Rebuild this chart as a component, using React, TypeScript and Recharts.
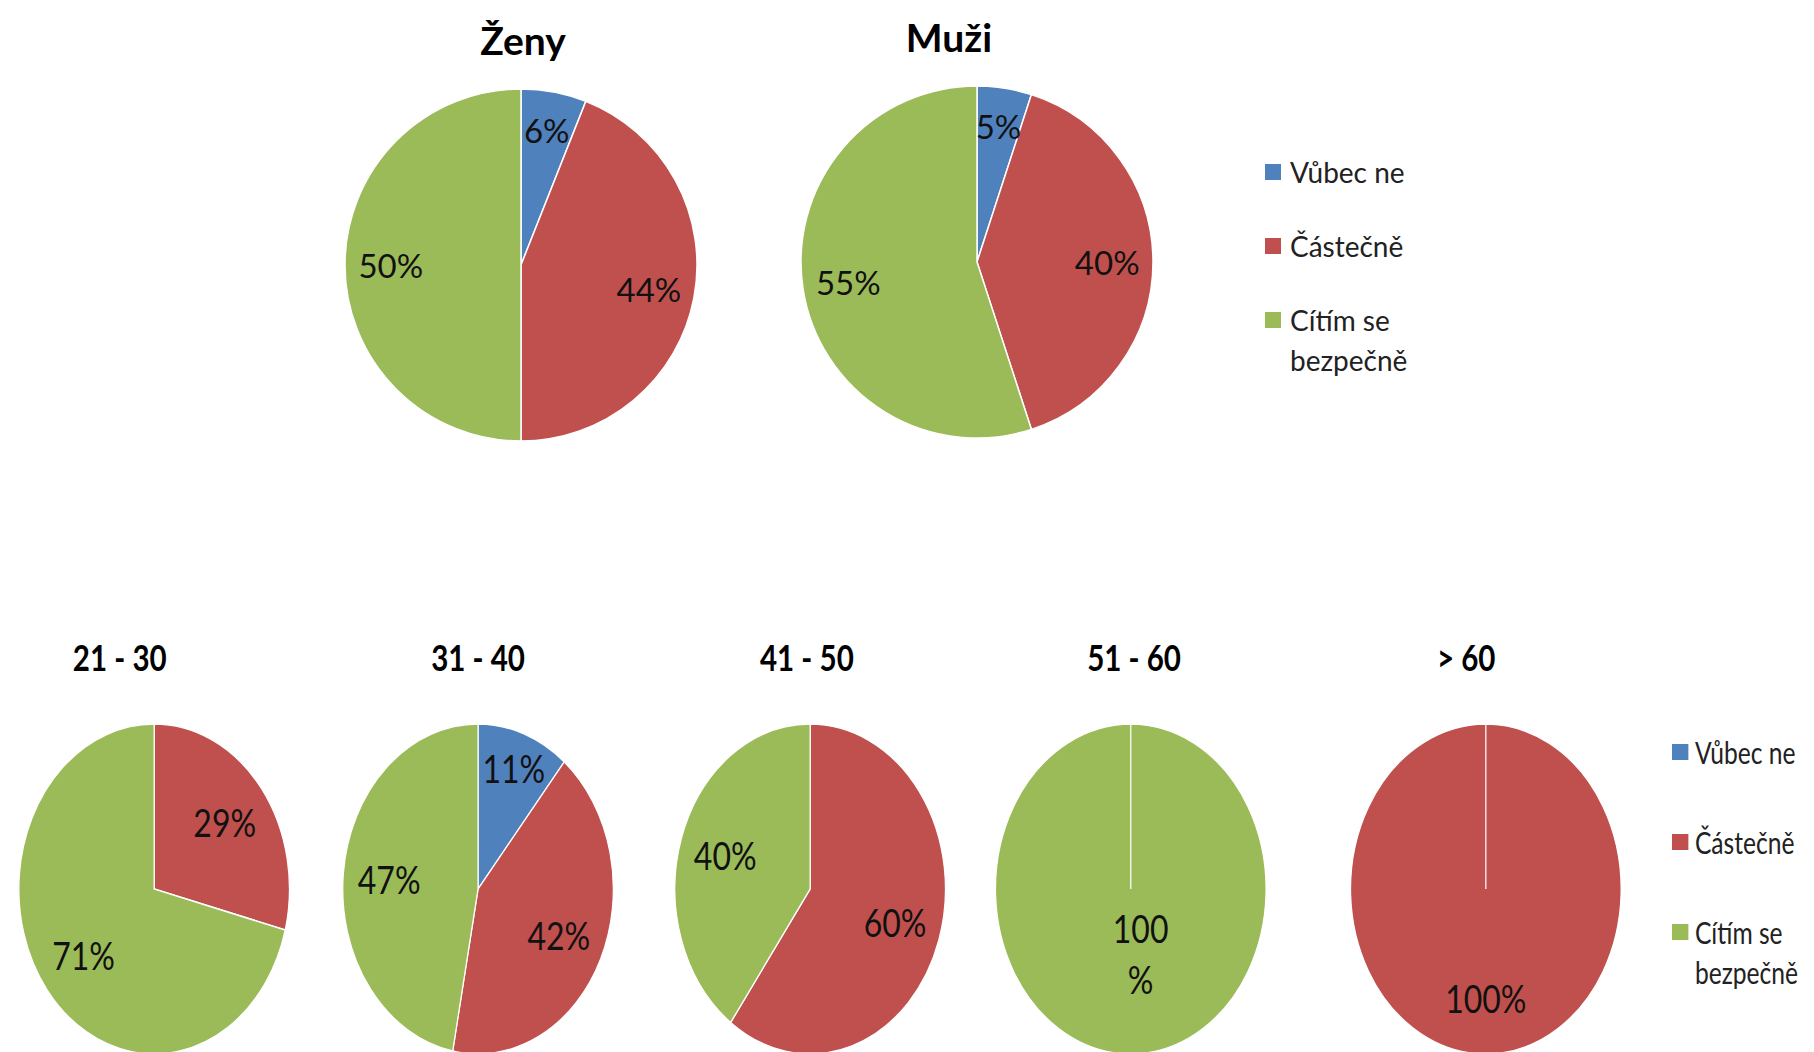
import React from "react";
import { PieChart, Pie, Cell, Legend } from "recharts";

// answer categories (same in every pie)
const categories = ["Vůbec ne", "Částečně", "Cítím se bezpečně"];
const sliceColors = ["#4F81BD", "#C0504D", "#9BBB59"];

// by gender
const genderTitles = ["Ženy", "Muži"];
const zenyValues = [6, 44, 50];
const muziValues = [5, 40, 55];

// by age group
const ageTitles = ["21 - 30", "31 - 40", "41 - 50", "51 - 60", "> 60"];
const age21to30 = [0, 29, 71];
const age31to40 = [11, 42, 47];
const age41to50 = [0, 60, 40];
const age51to60 = [0, 0, 100];
const ageOver60 = [0, 100, 0];

const toRows = (values: number[]) =>
  categories.map((name, i) => ({ name, value: values[i] }));

const FONT = "Lato, 'Open Sans', sans-serif";
const RAD = Math.PI / 180;
const NO_MARGIN = { top: 0, right: 0, bottom: 0, left: 0 };

// bottom row is drawn as circles and squeezed horizontally into ellipses
const SQUEEZE = 0.82;
const BOTTOM_TOP = 560;

type LabelOpts = { frac: number; smallFrac: number; fontSize: number; split?: boolean };

function pctLabel({ frac, smallFrac, fontSize, split }: LabelOpts) {
  return (p: any) => {
    if (!p.value) return null;
    const r = p.outerRadius * (p.percent < 0.15 ? smallFrac : frac);
    const x = p.cx + r * Math.cos(-p.midAngle * RAD);
    const y = p.cy + r * Math.sin(-p.midAngle * RAD);
    const txt = `${Math.round(p.percent * 100)}`;
    if (split) {
      return (
        <text x={x} y={y} textAnchor="middle" fill="#111" fontSize={fontSize} fontFamily={FONT}>
          <tspan x={x + 12} dy={-10}>{txt}</tspan>
          <tspan x={x + 12} dy={fontSize * 1.3}>%</tspan>
        </text>
      );
    }
    return (
      <text
        x={x}
        y={y}
        textAnchor="middle"
        dominantBaseline="central"
        fill="#111"
        fontSize={fontSize}
        fontFamily={FONT}
      >
        {txt}%
      </text>
    );
  };
}

type LegendBoxProps = {
  sqW: number;
  sqH: number;
  gap: number;
  spacing: number;
  fontSize: number;
  textWidth: number;
};

function LegendBox({ sqW, sqH, gap, spacing, fontSize, textWidth }: LegendBoxProps) {
  return (
    <div style={{ fontFamily: FONT }}>
      {categories.map((c, i) => (
        <div
          key={c}
          style={{ display: "flex", alignItems: "flex-start", marginBottom: spacing - 40 }}
        >
          <div
            style={{
              width: sqW,
              height: sqH,
              marginTop: (40 - sqH) / 2,
              marginRight: gap,
              background: sliceColors[i],
              flex: "none",
            }}
          />
          <span style={{ fontSize, lineHeight: "40px", color: "#222", width: textWidth }}>{c}</span>
        </div>
      ))}
    </div>
  );
}

const topPies = [
  { values: zenyValues, cx: 521, cy: 265, titleX: 523, titleY: 40 },
  { values: muziValues, cx: 977, cy: 262, titleX: 949, titleY: 37 },
];

const agePies = [
  { values: age21to30, cx: 188, titleX: 146, label: { frac: 0.66, smallFrac: 0.78, fontSize: 39 } },
  { values: age31to40, cx: 583, titleX: 583, label: { frac: 0.66, smallFrac: 0.78, fontSize: 39 } },
  { values: age41to50, cx: 988, titleX: 984, label: { frac: 0.66, smallFrac: 0.78, fontSize: 39 } },
  { values: age51to60, cx: 1379, titleX: 1383, label: { frac: 0.39, smallFrac: 0.39, fontSize: 39, split: true } },
  { values: ageOver60, cx: 1812, titleX: 1788, label: { frac: 0.66, smallFrac: 0.66, fontSize: 39 } },
];

function Title({ text, x, y, size }: { text: string; x: number; y: number; size: number }) {
  return (
    <div
      style={{
        position: "absolute",
        left: x - 150,
        top: y - size / 2,
        width: 300,
        textAlign: "center",
        fontFamily: FONT,
        fontWeight: 700,
        fontSize: size,
        lineHeight: 1,
        color: "#000",
      }}
    >
      {text}
    </div>
  );
}

export default function App() {
  const bottomW = Math.round(1814 / SQUEEZE);
  return (
    <div
      style={{
        position: "absolute",
        left: 0,
        top: 0,
        width: 1814,
        height: 1052,
        overflow: "hidden",
        background: "#fff",
      }}
    >
      {/* gender row */}
      <div style={{ position: "absolute", left: 0, top: 0, width: 1814, height: 470 }}>
        <PieChart width={1814} height={470} margin={NO_MARGIN}>
          {topPies.map((tp, k) => (
            <Pie
              key={k}
              data={toRows(tp.values)}
              dataKey="value"
              nameKey="name"
              cx={tp.cx}
              cy={tp.cy}
              outerRadius={176}
              startAngle={90}
              endAngle={-270}
              stroke="#fff"
              strokeWidth={1.5}
              labelLine={false}
              label={pctLabel({ frac: 0.74, smallFrac: 0.78, fontSize: 33 })}
              isAnimationActive={false}
            >
              {categories.map((c, i) => (
                <Cell key={c} fill={sliceColors[i]} />
              ))}
            </Pie>
          ))}
          <Legend
            content={() => (
              <LegendBox sqW={16} sqH={16} gap={9} spacing={74} fontSize={28} textWidth={150} />
            )}
            wrapperStyle={{ left: 1265, top: 152, width: 260 }}
          />
        </PieChart>
        {topPies.map((tp, k) => (
          <Title key={k} text={genderTitles[k]} x={tp.titleX} y={tp.titleY} size={39} />
        ))}
      </div>

      {/* age row */}
      <div
        style={{
          position: "absolute",
          left: 0,
          top: BOTTOM_TOP,
          width: bottomW,
          height: 1052 - BOTTOM_TOP,
          transform: `scaleX(${SQUEEZE})`,
          transformOrigin: "0 0",
        }}
      >
        <PieChart width={bottomW} height={1052 - BOTTOM_TOP} margin={NO_MARGIN}>
          {agePies.map((ap, k) => (
            <Pie
              key={k}
              data={toRows(ap.values)}
              dataKey="value"
              nameKey="name"
              cx={ap.cx}
              cy={889 - BOTTOM_TOP}
              outerRadius={165}
              startAngle={90}
              endAngle={-270}
              stroke="#fff"
              strokeWidth={1.5}
              labelLine={false}
              label={pctLabel(ap.label)}
              isAnimationActive={false}
            >
              {categories.map((c, i) => (
                <Cell key={c} fill={sliceColors[i]} />
              ))}
            </Pie>
          ))}
          <Legend
            content={() => (
              <LegendBox sqW={20} sqH={16} gap={8} spacing={90} fontSize={30} textWidth={160} />
            )}
            wrapperStyle={{ left: 2039, top: 752 - BOTTOM_TOP - 20, width: 260 }}
          />
        </PieChart>
        {agePies.map((ap, k) => (
          <Title key={k} text={ageTitles[k]} x={ap.titleX} y={657 - BOTTOM_TOP} size={36} />
        ))}
      </div>
    </div>
  );
}
